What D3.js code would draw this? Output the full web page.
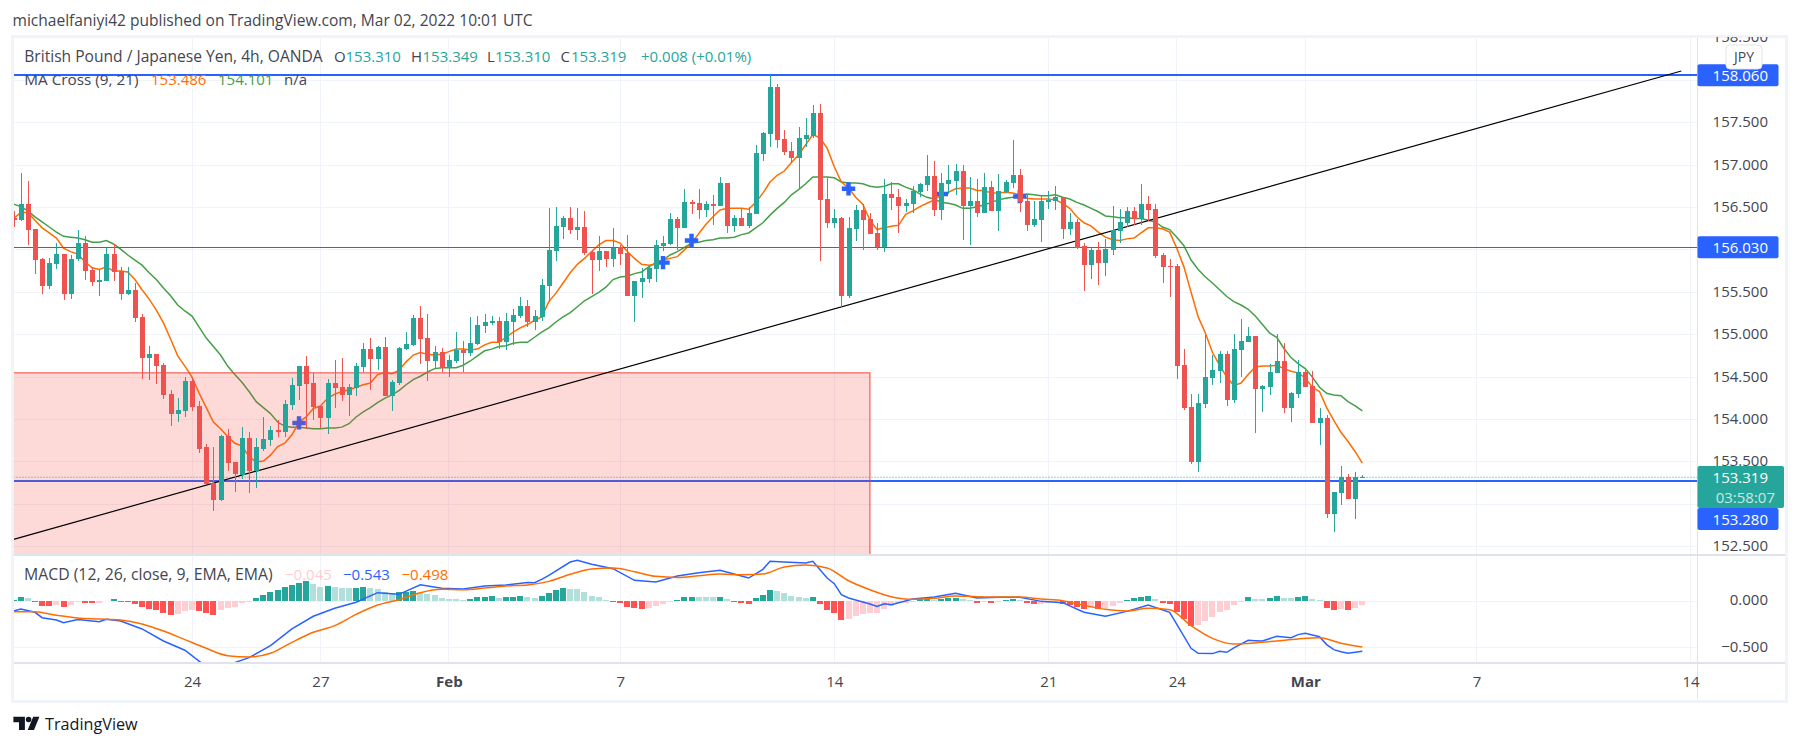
<!DOCTYPE html>
<html>
<head>
<meta charset="utf-8">
<title>GBP/JPY 4h</title>
<script src="https://cdn.jsdelivr.net/npm/d3@7"></script>
<style>
  html, body { margin: 0; padding: 0; background: #fff; }
  svg { display: block; }
  text { font-family: "Open Sans", sans-serif; }
</style>
</head>
<body>
<div id="root"></div>
<script>
const barOpen = [
  156.38,156.35,156.54,156.25,155.89,155.57,155.83,155.95,155.48,155.89,
  156.08,155.76,155.62,155.63,155.95,155.75,155.48,155.53,155.21,154.73,
  154.77,154.64,154.30,154.07,154.10,154.45,154.16,153.67,153.25,153.05,
  153.80,153.50,153.35,153.78,153.39,153.65,153.76,153.88,153.85,154.17,
  154.40,154.63,154.43,154.16,154.02,154.43,154.38,154.29,154.37,154.62,
  154.83,154.71,154.86,154.28,154.43,154.83,154.88,155.20,154.96,154.69,
  154.80,154.61,154.69,154.82,154.78,154.89,155.10,155.14,155.16,154.91,
  155.15,155.22,155.34,155.15,155.21,155.58,155.99,156.27,156.38,156.24,
  156.27,155.98,155.88,155.99,155.89,156.04,155.96,155.46,155.62,155.66,
  155.78,156.05,156.07,156.37,156.26,156.57,156.55,156.47,156.54,156.52,
  156.79,156.28,156.38,156.28,156.42,157.13,157.37,157.92,157.31,157.17,
  157.08,157.31,157.34,157.61,156.60,156.32,156.38,155.46,156.25,156.47,
  156.37,156.20,156.04,156.66,156.62,156.52,156.54,156.68,156.77,156.87,
  156.47,156.78,156.81,156.93,156.52,156.58,156.44,156.74,156.46,156.68,
  156.79,156.88,156.58,156.29,156.35,156.57,156.58,156.62,156.25,156.33,
  156.05,155.82,156.00,155.85,156.00,156.22,156.32,156.46,156.37,156.54,
  156.48,155.94,155.81,155.81,154.64,154.15,153.50,154.18,154.49,154.57,
  154.77,154.23,154.82,154.91,154.99,154.36,154.38,154.55,154.69,154.14,
  154.30,154.56,154.40,153.96,154.02,152.89,153.13,153.32,153.06,153.31
];
const barHigh = [
  156.46,156.91,156.81,156.25,155.90,155.90,156.08,155.95,155.94,156.24,
  156.16,155.80,155.77,156.02,156.07,155.80,155.80,155.61,155.25,154.87,
  154.77,154.67,154.35,154.25,154.50,154.50,154.22,153.71,153.68,153.82,
  153.89,153.50,153.91,153.85,153.78,154.03,153.92,153.99,154.23,154.49,
  154.63,154.75,154.55,154.16,154.48,154.70,154.73,154.42,154.67,154.90,
  154.96,154.87,154.97,154.47,154.86,155.03,155.23,155.34,155.25,154.87,
  154.84,154.76,155.03,154.93,155.21,155.22,155.24,155.22,155.21,155.26,
  155.30,155.45,155.41,155.29,155.66,156.50,156.51,156.40,156.51,156.50,
  156.46,156.00,156.16,155.99,156.26,156.06,156.18,155.63,155.79,155.80,
  156.12,156.16,156.44,156.39,156.72,156.59,156.72,156.58,156.65,156.86,
  156.79,156.41,156.48,156.51,157.24,157.39,158.06,157.96,157.41,157.27,
  157.45,157.56,157.71,157.72,156.85,156.48,156.39,156.39,156.53,156.54,
  156.44,156.32,156.84,156.80,156.72,156.60,156.75,156.79,157.12,157.05,
  156.91,157.00,157.01,157.00,156.86,156.84,156.91,156.81,156.90,156.82,
  157.30,156.95,156.65,156.58,156.64,156.70,156.75,156.62,156.44,156.37,
  156.08,156.02,156.09,156.13,156.52,156.48,156.51,156.51,156.78,156.64,
  156.54,155.96,155.89,155.83,154.83,154.30,154.30,155.00,154.76,154.81,
  154.81,155.01,155.19,155.09,154.99,154.41,154.65,155.01,154.90,154.33,
  154.70,154.58,154.57,154.14,154.05,153.15,153.45,153.36,153.38,153.349
];
const barLow = [
  156.27,156.34,156.06,155.72,155.48,155.54,155.78,155.41,155.42,155.87,
  155.65,155.58,155.46,155.63,155.63,155.41,155.47,155.15,154.48,154.47,
  154.42,154.24,153.92,153.97,154.03,154.10,153.61,153.24,152.92,153.04,
  153.39,153.15,153.30,153.13,153.19,153.63,153.69,153.79,153.79,154.11,
  154.23,153.89,153.99,153.90,153.83,154.14,154.22,154.04,154.28,154.56,
  154.35,154.58,154.28,154.10,154.41,154.82,154.87,154.66,154.45,154.61,
  154.56,154.50,154.67,154.56,154.75,154.88,155.02,155.12,154.83,154.82,
  154.88,155.20,155.09,155.06,155.16,155.38,155.87,156.13,156.19,156.12,
  155.94,155.48,155.75,155.80,155.80,155.82,155.46,155.15,155.43,155.61,
  155.62,155.99,156.06,156.00,156.26,156.42,156.37,156.39,156.29,156.52,
  156.20,156.21,156.28,156.26,156.42,157.05,157.21,157.20,157.12,157.03,
  156.72,157.21,157.32,155.87,156.26,156.26,155.33,155.43,156.11,156.00,
  156.19,156.00,155.98,156.47,156.20,156.45,156.44,156.62,156.70,156.40,
  156.35,156.66,156.65,156.12,156.06,156.39,156.44,156.46,156.22,156.67,
  156.73,156.45,156.22,156.27,156.09,156.48,156.47,156.13,156.17,156.01,
  155.52,155.66,155.59,155.69,155.94,156.08,156.27,156.29,156.29,156.34,
  155.90,155.61,155.45,154.48,154.11,153.47,153.38,154.14,154.41,154.43,
  154.16,154.20,154.50,154.91,153.84,154.09,154.29,154.55,154.08,153.97,
  154.25,154.38,153.96,153.70,152.84,152.67,152.99,153.06,152.83,153.31
];
const barClose = [
  156.35,156.54,156.24,155.88,155.57,155.85,155.95,155.48,155.89,156.08,
  155.75,155.62,155.65,155.95,155.74,155.48,155.53,155.20,154.73,154.77,
  154.63,154.29,154.07,154.11,154.45,154.15,153.65,153.24,153.05,153.80,
  153.49,153.36,153.78,153.39,153.67,153.77,153.88,153.85,154.18,154.41,
  154.63,154.42,154.15,154.02,154.43,154.37,154.29,154.38,154.63,154.83,
  154.71,154.86,154.28,154.44,154.84,154.89,155.20,154.95,154.69,154.80,
  154.61,154.70,154.82,154.78,154.90,155.12,155.15,155.16,154.91,155.16,
  155.23,155.34,155.15,155.22,155.59,156.00,156.28,156.38,156.24,156.27,
  155.96,155.88,155.99,155.89,156.02,155.95,155.46,155.63,155.67,155.79,
  156.06,156.08,156.37,156.26,156.57,156.54,156.47,156.54,156.52,156.79,
  156.28,156.38,156.28,156.44,157.14,157.38,157.92,157.30,157.15,157.08,
  157.32,157.36,157.61,156.59,156.32,156.38,155.46,156.26,156.47,156.35,
  156.19,156.04,156.66,156.61,156.52,156.55,156.70,156.78,156.87,156.47,
  156.79,156.82,156.93,156.52,156.58,156.44,156.74,156.46,156.70,156.80,
  156.88,156.56,156.29,156.37,156.58,156.59,156.62,156.25,156.33,156.02,
  155.82,156.00,155.85,156.01,156.24,156.33,156.46,156.37,156.54,156.47,
  155.93,155.80,155.80,154.63,154.14,153.50,154.20,154.50,154.58,154.77,
  154.23,154.83,154.93,154.99,154.36,154.40,154.56,154.69,154.14,154.31,
  154.56,154.38,153.96,154.02,152.89,153.15,153.32,153.06,153.32,153.319
];
const ma9 = [
  156.37,156.44,156.44,156.35,156.26,156.20,156.14,156.02,155.98,155.95,
  155.86,155.79,155.77,155.80,155.75,155.75,155.74,155.65,155.53,155.42,
  155.29,155.14,154.95,154.75,154.63,154.50,154.31,154.14,153.97,153.89,
  153.80,153.72,153.69,153.56,153.50,153.51,153.58,153.68,153.72,153.82,
  153.97,154.03,154.13,154.16,154.25,154.30,154.33,154.35,154.38,154.41,
  154.43,154.53,154.55,154.54,154.58,154.68,154.76,154.79,154.77,154.76,
  154.77,154.80,154.83,154.83,154.82,154.83,154.88,154.91,154.91,154.97,
  155.03,155.08,155.12,155.17,155.21,155.39,155.49,155.61,155.73,155.83,
  155.90,155.98,156.06,156.11,156.11,156.08,155.98,155.90,155.83,155.82,
  155.83,155.88,155.90,155.92,156.00,156.08,156.19,156.30,156.39,156.47,
  156.49,156.49,156.49,156.48,156.56,156.67,156.80,156.88,156.93,157.03,
  157.12,157.24,157.36,157.32,157.20,156.98,156.80,156.73,156.62,156.54,
  156.35,156.24,156.26,156.28,156.29,156.42,156.46,156.51,156.55,156.59,
  156.65,156.68,156.72,156.73,156.73,156.70,156.70,156.67,156.67,156.68,
  156.67,156.65,156.61,156.60,156.60,156.60,156.59,156.55,156.49,156.39,
  156.32,156.28,156.21,156.15,156.12,156.11,156.13,156.14,156.20,156.26,
  156.26,156.25,156.21,156.02,155.80,155.50,155.21,155.02,154.79,154.64,
  154.50,154.40,154.43,154.53,154.62,154.63,154.63,154.64,154.60,154.57,
  154.55,154.49,154.38,154.33,154.14,153.99,153.85,153.74,153.62,153.486
];
const ma21 = [
  156.54,156.51,156.46,156.39,156.33,156.27,156.21,156.16,156.15,156.14,
  156.12,156.09,156.09,156.11,156.07,156.01,155.94,155.88,155.82,155.73,
  155.65,155.55,155.46,155.35,155.28,155.22,155.09,154.96,154.86,154.76,
  154.63,154.53,154.44,154.33,154.21,154.14,154.07,153.97,153.92,153.91,
  153.91,153.90,153.89,153.89,153.90,153.90,153.91,153.95,154.03,154.09,
  154.14,154.20,154.25,154.29,154.34,154.41,154.47,154.51,154.56,154.60,
  154.61,154.61,154.61,154.64,154.69,154.75,154.81,154.83,154.86,154.87,
  154.90,154.91,154.91,154.97,155.03,155.08,155.15,155.21,155.26,155.33,
  155.40,155.45,155.50,155.56,155.65,155.68,155.69,155.72,155.74,155.80,
  155.85,155.88,155.94,155.98,156.03,156.08,156.09,156.11,156.12,156.14,
  156.14,156.15,156.18,156.20,156.26,156.32,156.41,156.49,156.56,156.65,
  156.71,156.78,156.86,156.86,156.86,156.85,156.80,156.79,156.79,156.78,
  156.75,156.74,156.75,156.78,156.78,156.74,156.71,156.66,156.62,156.60,
  156.56,156.55,156.53,156.49,156.49,156.51,156.53,156.56,156.59,156.61,
  156.62,156.65,156.66,156.65,156.64,156.64,156.65,156.62,156.60,156.56,
  156.53,156.49,156.45,156.40,156.39,156.38,156.38,156.37,156.37,156.35,
  156.33,156.27,156.24,156.15,156.05,155.88,155.77,155.68,155.61,155.53,
  155.45,155.39,155.35,155.30,155.22,155.12,155.02,154.97,154.84,154.73,
  154.66,154.60,154.50,154.38,154.31,154.29,154.28,154.21,154.16,154.101
];
const macdHist = [
  .014,.043,.029,-.014,-.050,-.054,-.043,-.065,-.043,-.011,
  -.018,-.022,-.018,-.004,.018,-.007,-.014,-.032,-.065,-.086,
  -.094,-.126,-.147,-.144,-.108,-.094,-.108,-.130,-.155,-.101,
  -.072,-.068,-.022,-.014,.036,.065,.097,.119,.155,.169,
  .191,.216,.187,.155,.162,.151,.144,.137,.144,.147,
  .137,.133,.097,.090,.097,.101,.108,.090,.072,.065,
  .029,.022,.018,.014,.018,.040,.043,.050,.029,.040,
  .043,.050,.040,.029,.050,.086,.115,.137,.133,.126,
  .094,.050,.040,.007,-.007,-.025,-.068,-.079,-.083,-.079,
  -.058,-.036,-.007,.011,.040,.047,.043,.040,.038,.047,
  .018,-.011,-.022,-.036,.029,.061,.115,.104,.083,.050,
  .040,.036,.040,-.032,-.097,-.133,-.205,-.194,-.165,-.144,
  -.133,-.130,-.090,-.050,-.025,-.018,-.011,.018,.022,.014,
  .022,.029,.036,.018,.007,-.018,-.007,-.018,-.007,.014,
  .025,.011,-.025,-.036,-.029,-.022,-.011,-.029,-.043,-.061,
  -.083,-.072,-.086,-.072,-.054,-.018,.014,.036,.047,.058,
  .025,-.022,-.029,-.119,-.198,-.273,-.263,-.219,-.169,-.115,
  -.101,-.047,-.007,.043,.025,.022,.032,.054,.032,.029,
  .043,.054,.025,.011,-.072,-.094,-.090,-.094,-.072,-.045
];
// the two macd lines were read off at their turning points, not on every bar
const macdBars = [
  0,1,3,4,6,7,9,12,13,15,18,21,24,27,30,33,36,39,42,45,48,51,54,57,60,63,66,69,72,73,
  74,75,78,79,81,84,87,90,93,96,99,102,103,105,106,108,111,112,114,115,116,117,120,121,
  122,123,126,129,132,135,138,141,144,147,150,153,156,159,162,165,166,168,169,170,171,
  173,174,175,177,179,180,181,183,184,185,186,187,189
];
const macdLine = [
  -.108,-.086,-.122,-.180,-.205,-.234,-.201,-.223,-.198,-.216,-.302,-.432,-.532,-.709,-.691,
  -.612,-.482,-.302,-.165,-.079,-.014,.090,.072,.176,.137,.129,.162,.173,.201,.198,
  .234,.277,.421,.439,.396,.349,.223,.205,.270,.306,.331,.270,.248,.342,.428,.421,.410,.428,
  .248,.187,.068,.032,-.032,-.058,
  -.029,-.040,.022,.043,.083,.032,.040,.040,-.004,-.018,-.122,-.165,-.112,-.043,-.122,-.511,
  -.565,-.568,-.543,-.554,-.507,
  -.424,-.428,-.432,-.381,-.396,-.363,-.349,-.385,-.471,-.525,-.547,-.565,-.543
];
const signalBars = d3.range(0, 190, 3);
const signalLine = [
  -.115,-.115,-.155,-.183,-.194,-.205,-.248,-.324,-.417,-.511,
  -.590,-.604,-.565,-.446,-.338,-.266,-.144,-.043,.014,.090,
  .126,.122,.140,.162,.173,.212,.288,.345,.356,.317,
  .266,.255,.273,.291,.284,.291,.367,.388,.356,.219,
  .122,.047,.018,.029,.054,.047,.043,.043,.022,.004,
  -.047,-.090,-.108,-.079,-.094,-.266,-.403,-.464,-.453,-.432,
  -.410,-.396,-.457,-.498
];
const crossBars = [40, 91, 95, 117, 130, 141];
const crossPrices = [153.96, 155.85, 156.11, 156.72, 156.66, 156.63];
const levelPrices = [158.06, 156.03, 153.28];
const lastPrice = 153.319;
const zonePrice = 154.55;
const zoneEndBar = 120;
const trendBars = [0, 233.7];
const trendPrices = [152.587, 158.11];
const priceTicks = [152.5, 153.5, 154, 154.5, 155, 155.5, 156, 156.5, 157, 157.5, 158, 158.5];
const macdTicks = [0, -0.5];
const timeBars = [25, 43, 61, 85, 115, 145, 163, 181, 205, 235];
const timeLabels = ['24', '27', 'Feb', '7', '14', '21', '24', 'Mar', '7', '14'];

const width = 1801;
const height = 747;
const pane = { left: 13.5, right: 1697, top: 37, bottom: 554, macdTop: 556, macdBottom: 663, axisRight: 1785, axisBottom: 699 };
const upColor = '#26a69a';
const downColor = '#ef5350';
const blue = '#2962ff';
const orange = '#ff6d00';
const gridColor = '#f0f3fa';
const lineColor = '#e0e3eb';
const textColor = '#434651';

const xScale = d3.scaleLinear().domain([25, 235]).range([192, 1690.6]);
const yScale = d3.scaleLinear().domain([152.5, 158.5]).range([546.7, 37.9]);
const macdScale = d3.scaleLinear().domain([-0.5, 0]).range([647.3, 601]);

const svg = d3.select('#root').append('svg').attr('width', width).attr('height', height);
svg.append('rect').attr('width', width).attr('height', height).attr('fill', '#fff');

const defs = svg.append('defs');
defs.append('clipPath').attr('id', 'price-clip').append('rect')
  .attr('x', pane.left).attr('y', pane.top)
  .attr('width', pane.right - pane.left).attr('height', pane.bottom - pane.top);
defs.append('clipPath').attr('id', 'macd-clip').append('rect')
  .attr('x', pane.left).attr('y', pane.macdTop)
  .attr('width', pane.right - pane.left).attr('height', pane.macdBottom - pane.macdTop);
defs.append('clipPath').attr('id', 'axis-clip').append('rect')
  .attr('x', pane.right).attr('y', pane.top)
  .attr('width', pane.axisRight - pane.right).attr('height', pane.macdBottom - pane.top);

// header above the chart
svg.append('text').attr('x', 12.5).attr('y', 26).attr('font-size', 15.55).attr('fill', textColor)
  .text('michaelfaniyi42 published on TradingView.com, Mar 02, 2022 10:01 UTC');

// grid
const grid = svg.append('g').attr('shape-rendering', 'crispEdges').attr('stroke', gridColor);
grid.selectAll('line.v').data(timeBars).join('line').attr('class', 'v')
  .attr('x1', d => xScale(d)).attr('x2', d => xScale(d))
  .attr('y1', pane.top).attr('y2', pane.macdBottom);
grid.selectAll('line.h').data(priceTicks).join('line').attr('class', 'h')
  .attr('x1', pane.left).attr('x2', pane.right)
  .attr('y1', d => yScale(d)).attr('y2', d => yScale(d));
grid.selectAll('line.m').data(macdTicks).join('line').attr('class', 'm')
  .attr('x1', pane.left).attr('x2', pane.right)
  .attr('y1', d => macdScale(d)).attr('y2', d => macdScale(d));
grid.append('line').attr('x1', pane.left).attr('x2', pane.right)
  .attr('y1', yScale(153)).attr('y2', yScale(153));

// price pane
const price = svg.append('g').attr('clip-path', 'url(#price-clip)');

const lineFor = d3.line().x((d, i) => xScale(i)).y(d => yScale(d));
price.append('path').attr('d', lineFor(ma21)).attr('fill', 'none').attr('stroke', '#43a047').attr('stroke-width', 1.5);
price.append('path').attr('d', lineFor(ma9)).attr('fill', 'none').attr('stroke', orange).attr('stroke-width', 1.5);

price.selectAll('path.cross').data(crossBars).join('path').attr('class', 'cross')
  .attr('d', d3.symbol().type(d3.symbolCross).size(100))
  .attr('transform', (d, i) => `translate(${xScale(d)},${yScale(crossPrices[i])})`)
  .attr('fill', blue);

price.selectAll('line.level').data(levelPrices).join('line').attr('class', 'level')
  .attr('shape-rendering', 'crispEdges')
  .attr('x1', pane.left).attr('x2', pane.right)
  .attr('y1', d => Math.round(yScale(d))).attr('y2', d => Math.round(yScale(d)))
  .attr('stroke', blue).attr('stroke-width', (d, i) => (i === 1 ? 1 : 2));

price.append('line')
  .attr('x1', pane.left).attr('x2', pane.right)
  .attr('y1', yScale(lastPrice)).attr('y2', yScale(lastPrice))
  .attr('stroke', upColor).attr('stroke-dasharray', '1 2');

// red zone runs off the bottom of the pane
price.append('rect')
  .attr('x', pane.left - 5).attr('y', yScale(zonePrice))
  .attr('width', xScale(zoneEndBar) - pane.left + 5)
  .attr('height', pane.bottom + 5 - yScale(zonePrice))
  .attr('fill', 'rgba(244,67,54,0.2)').attr('stroke', '#f44336').attr('stroke-width', 1);

price.append('line')
  .attr('x1', xScale(trendBars[0])).attr('x2', xScale(trendBars[1]))
  .attr('y1', yScale(trendPrices[0])).attr('y2', yScale(trendPrices[1]))
  .attr('stroke', '#000').attr('stroke-width', 1.2);

const candles = price.append('g').attr('shape-rendering', 'crispEdges');
const candle = candles.selectAll('g').data(barOpen).join('g')
  .attr('fill', (d, i) => (barClose[i] >= d ? upColor : downColor));
candle.append('rect')
  .attr('x', (d, i) => Math.round(xScale(i)))
  .attr('width', 1)
  .attr('y', (d, i) => yScale(barHigh[i]))
  .attr('height', (d, i) => yScale(barLow[i]) - yScale(barHigh[i]));
candle.append('rect')
  .attr('x', (d, i) => Math.round(xScale(i)) - 2)
  .attr('width', 5)
  .attr('y', (d, i) => yScale(Math.max(d, barClose[i])))
  .attr('height', (d, i) => Math.max(1, Math.abs(yScale(d) - yScale(barClose[i]))));

// macd pane
const macd = svg.append('g').attr('clip-path', 'url(#macd-clip)');
macd.append('g').attr('shape-rendering', 'crispEdges')
  .selectAll('rect').data(macdHist).join('rect')
  .attr('x', (d, i) => Math.round(xScale(i)) - 3)
  .attr('width', 6)
  .attr('y', d => Math.min(macdScale(d), macdScale(0)))
  .attr('height', d => Math.abs(macdScale(d) - macdScale(0)))
  .attr('fill', (d, i) => {
    const prev = i > 0 ? macdHist[i - 1] : 0;
    if (d >= 0) return d >= prev ? upColor : '#b2dfdb';
    return d < prev ? '#ff5252' : '#ffcdd2';
  });
const macdPath = d3.line().x((d, i) => xScale(macdBars[i])).y(d => macdScale(d));
const signalPath = d3.line().x((d, i) => xScale(signalBars[i])).y(d => macdScale(d)).curve(d3.curveMonotoneX);
macd.append('path').attr('d', macdPath(macdLine)).attr('fill', 'none').attr('stroke', blue).attr('stroke-width', 1.5);
macd.append('path').attr('d', signalPath(signalLine)).attr('fill', 'none').attr('stroke', orange).attr('stroke-width', 1.5);

// pane borders
const borders = svg.append('g').attr('shape-rendering', 'crispEdges');
borders.append('line').attr('x1', pane.left).attr('x2', pane.axisRight).attr('y1', 555).attr('y2', 555).attr('stroke', lineColor).attr('stroke-width', 2);
borders.append('line').attr('x1', pane.left).attr('x2', pane.axisRight).attr('y1', pane.macdBottom).attr('y2', pane.macdBottom).attr('stroke', lineColor).attr('stroke-width', 2);
borders.append('line').attr('x1', pane.right).attr('x2', pane.right).attr('y1', pane.top).attr('y2', pane.axisBottom).attr('stroke', lineColor);
borders.append('rect').attr('x', 12.5).attr('y', 36).attr('width', 1773.5).attr('height', 665).attr('fill', 'none').attr('stroke', gridColor).attr('stroke-width', 3);

// axes
const styleAxis = g => {
  g.select('.domain').remove();
  g.selectAll('text').attr('font-size', 15).attr('fill', textColor).attr('font-family', '"Open Sans", sans-serif');
};
const axisLayer = svg.append('g').attr('clip-path', 'url(#axis-clip)');
axisLayer.append('g').attr('transform', `translate(${pane.right},0)`)
  .call(d3.axisRight(yScale).tickValues(priceTicks).tickFormat(d3.format('.3f')).tickSize(0).tickPadding(71))
  .call(styleAxis)
  .selectAll('text').attr('text-anchor', 'end').attr('dy', '0.27em');
axisLayer.append('g').attr('transform', `translate(${pane.right},0)`)
  .call(d3.axisRight(macdScale).tickValues(macdTicks).tickFormat(d3.format('.3f')).tickSize(0).tickPadding(71))
  .call(styleAxis)
  .selectAll('text').attr('text-anchor', 'end').attr('dy', '0.25em');
svg.append('g').attr('transform', `translate(0,${pane.macdBottom})`)
  .call(d3.axisBottom(xScale).tickValues(timeBars).tickFormat((d, i) => timeLabels[i]).tickSize(0).tickPadding(13))
  .call(styleAxis)
  .selectAll('text')
  .attr('font-weight', (d, i) => (isNaN(timeLabels[i]) ? 700 : 400));

// price tags on the axis
const tag = (y, h, w, fill, label, fg) => {
  svg.append('rect').attr('x', pane.right + 0.5).attr('y', y - h / 2).attr('width', w).attr('height', h).attr('rx', 2).attr('fill', fill);
  svg.append('text').attr('x', 1768).attr('y', y + 5.5).attr('text-anchor', 'end').attr('font-size', 15).attr('fill', fg).text(label);
};
const fmt = d3.format('.3f');
tag(yScale(levelPrices[0]), 22, 81, blue, fmt(levelPrices[0]), '#fff');
tag(yScale(levelPrices[1]), 22, 81, blue, fmt(levelPrices[1]), '#fff');
tag(519, 22, 81, blue, fmt(levelPrices[2]), '#fff');
svg.append('rect').attr('x', pane.right + 0.5).attr('y', 466).attr('width', 86.5).attr('height', 42).attr('rx', 2).attr('fill', upColor);
svg.append('text').attr('x', 1768).attr('y', 483).attr('text-anchor', 'end').attr('font-size', 15).attr('fill', '#fff').text(fmt(lastPrice));
svg.append('text').attr('x', 1775).attr('y', 503).attr('text-anchor', 'end').attr('font-size', 15).attr('fill', '#c8e8e5').text('03:58:07');

svg.append('rect').attr('x', 1726).attr('y', 45).attr('width', 36).attr('height', 24).attr('rx', 4)
  .attr('fill', '#fff').attr('stroke', lineColor);
svg.append('text').attr('x', 1744).attr('y', 62).attr('text-anchor', 'middle').attr('font-size', 14).attr('fill', textColor).text('JPY');

// legends
const label = (x, y, str, color, size) => {
  svg.append('text').attr('x', x).attr('y', y).attr('font-size', size || 15).attr('fill', color || textColor).text(str);
};
label(24.3, 62, 'British Pound / Japanese Yen, 4h, OANDA', null, 15.6);
label(334, 62, 'O');
label(345.5, 62, '153.310', upColor);
label(411, 62, 'H');
label(422.5, 62, '153.349', upColor);
label(487, 62, 'L');
label(495, 62, '153.310', upColor);
label(560.5, 62, 'C');
label(571, 62, '153.319', upColor);
label(641, 62, '+0.008 (+0.01%)', upColor);
label(24.3, 85, 'MA Cross (9, 21)', null, 15.3);
label(151, 85, '153.486', orange);
label(218, 85, '154.101', '#43a047');
label(284, 85, 'n/a');
label(24, 579.5, 'MACD (12, 26, close, 9, EMA, EMA)', null, 15.8);
label(285, 579.5, '\u22120.045', '#ffcdd2');
label(343, 579.5, '\u22120.543', blue);
label(401.5, 579.5, '\u22120.498', orange);

// logo
const logo = svg.append('g').attr('transform', 'translate(13.4,716.7)').attr('fill', '#131722');
logo.append('path').attr('d', 'M0 0H11.5V13.3H5.6V5.6H0Z');
logo.append('circle').attr('cx', 15.2).attr('cy', 2.8).attr('r', 2.8);
logo.append('path').attr('d', 'M19.8 0H26L20.6 13.3H14.3Z');
svg.append('text').attr('x', 45).attr('y', 729.5).attr('font-size', 16.2).attr('font-weight', 500).attr('fill', '#131722').text('TradingView');
</script>
</body>
</html>
